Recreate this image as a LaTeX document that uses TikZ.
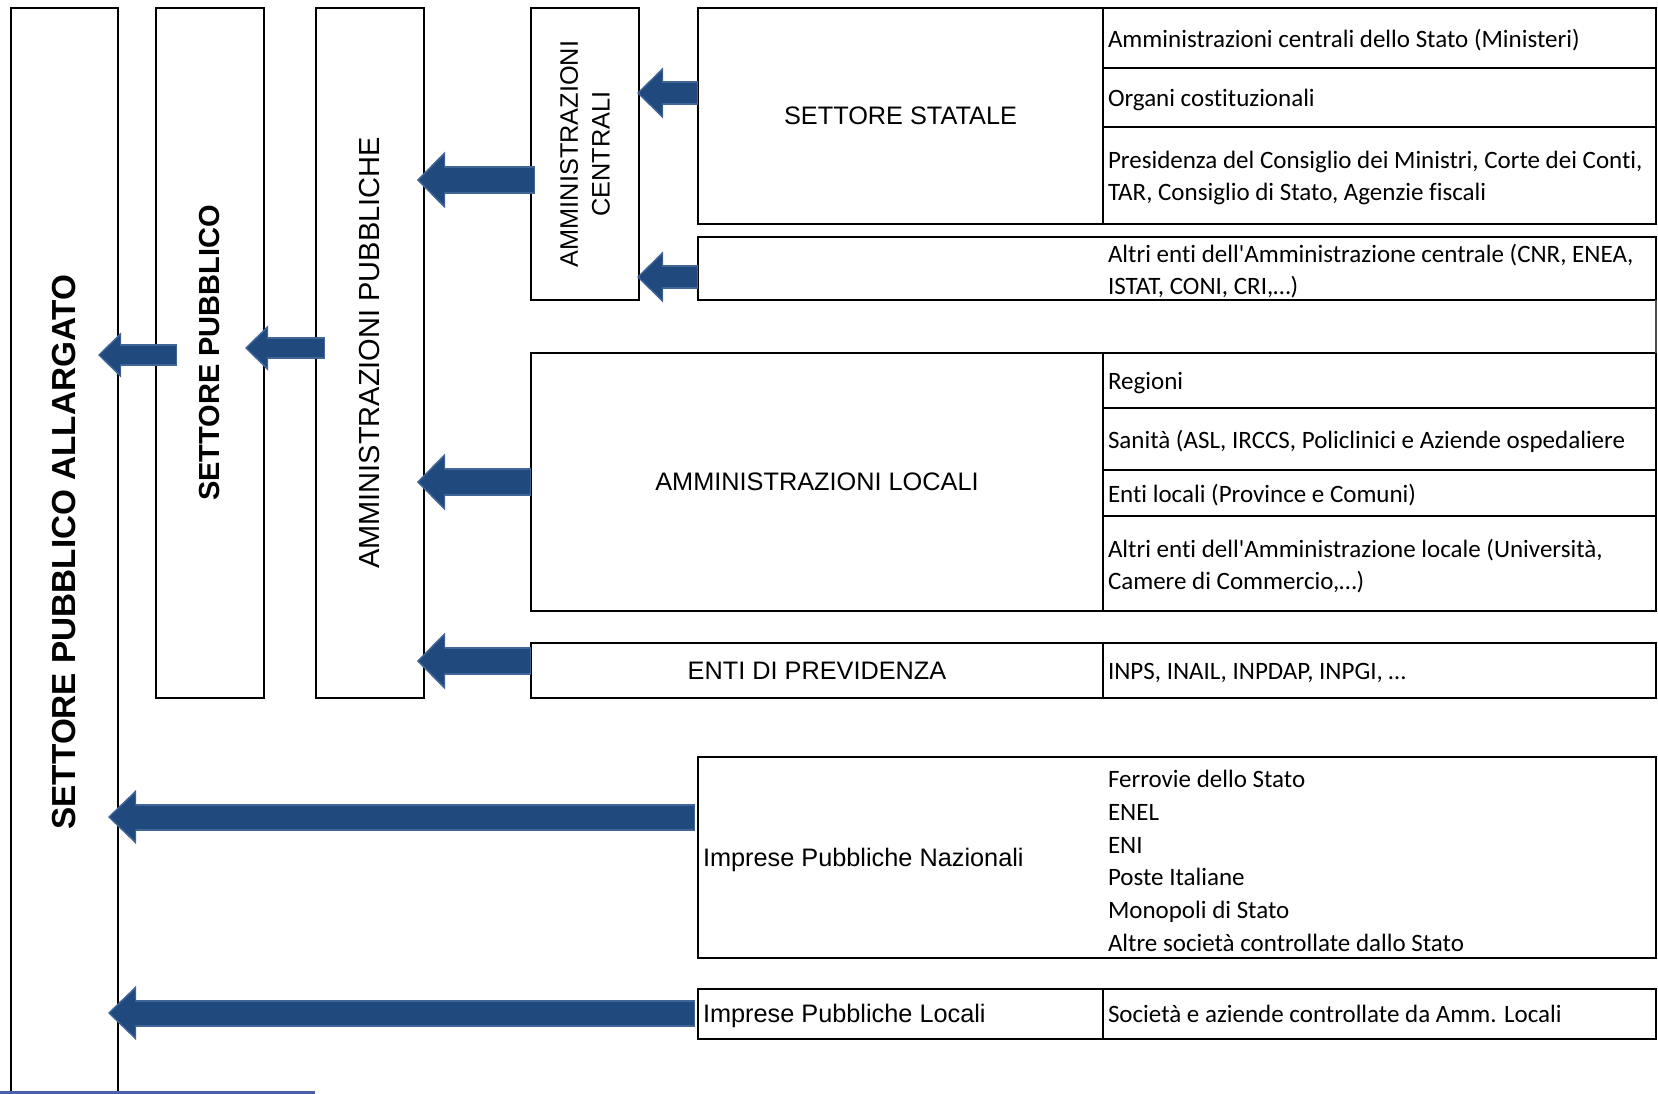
\documentclass[tikz,border=0pt]{standalone}
\usepackage{fontspec}
\setmainfont{Liberation Sans}
\newfontfamily\calibrifont[Ligatures=NoCommon]{Carlito}
\usetikzlibrary{arrows.meta,positioning}
\definecolor{arrowfill}{RGB}{32,74,126}
\definecolor{arrowedge}{RGB}{66,101,152}
\definecolor{footblue}{RGB}{76,96,168}
\begin{document}
\begin{tikzpicture}[x=1pt, y=-1pt, inner sep=0pt, outer sep=0pt,
  box/.style={rectangle, draw=black, line width=2.8},
  cell/.style={box, minimum width=553},
  lbl/.style={font=\fontsize{25.3}{31.7}\selectfont, align=center},
  txt/.style={font=\calibrifont\fontsize{25}{31.7}\selectfont, align=left, yshift=-2.5},
  vlbl/.style={rotate=90, align=center},
  fat/.style n args={6}{preaction={draw=arrowedge, line width=#1, shorten >=0pt, shorten <=0pt, -{Triangle[width=#2, length=#3, line width=0pt]}}, draw=arrowfill, line width=#4, shorten >=2pt, shorten <=1pt, -{Triangle[width=#5, length=#6, line width=0pt]}},
  pipe/.style={fat={24pt}{51pt}{26pt}{20pt}{44pt}{23pt}},
  trunk/.style={fat={28pt}{57pt}{28pt}{24pt}{50pt}{25pt}},
  stub/.style={fat={22pt}{45pt}{23pt}{18pt}{38pt}{20pt}},
  lance/.style={fat={27pt}{54pt}{28pt}{23pt}{47pt}{25pt}}]
\path[use as bounding box, clip] (0,0) rectangle (1658,1094);

\node[box, minimum width=107, minimum height=1112] (allargato) at (64.5,564) {};
\node[box, minimum width=108, minimum height=690] (pubblico) at (210,353) {};
\node[box, minimum width=108, minimum height=690] (amminpub) at (370,353) {};
\node[box, minimum width=108, minimum height=292] (centrali) at (585,154) {};
\node[vlbl, font=\bfseries\fontsize{33.3}{40}\selectfont] (allargato-t) at (64.5,552) {SETTORE PUBBLICO ALLARGATO};
\node[vlbl, font=\bfseries\fontsize{29}{35}\selectfont] (pubblico-t) at (pubblico) {SETTORE PUBBLICO};
\node[vlbl, font=\fontsize{29}{35}\selectfont] (amminpub-t) at (amminpub) {AMMINISTRAZIONI PUBBLICHE};
\node[vlbl, lbl] (centrali-t) at (centrali) {AMMINISTRAZIONI\\CENTRALI};

\node[box, lbl, minimum width=405, minimum height=216] (statale) at (900.5,116) {SETTORE STATALE};
\node[cell, minimum height=60] (ministeri) at (1379.5,38) {};
\node[cell, minimum height=59] (organi) at (1379.5,97.5) {};
\node[cell, minimum height=97] (presidenza) at (1379.5,175.5) {};
\node[txt, right=5 of ministeri.west] (ministeri-t) {Amministrazioni centrali dello Stato (Ministeri)};
\node[txt, right=5 of organi.west] (organi-t) {Organi costituzionali};
\node[txt, right=5 of presidenza.west] (presidenza-t) {Presidenza del Consiglio dei Ministri, Corte dei Conti,\\TAR, Consiglio di Stato, Agenzie fiscali};

\node[box, minimum width=958, minimum height=63] (altricentr) at (1177,268.5) {};
\node[txt, anchor=west, xshift=5] (altricentr-t) at (statale.east |- altricentr.west) {Altri enti dell'Amministrazione centrale (CNR, ENEA,\\ISTAT, CONI, CRI,…)};

\node[box, lbl, minimum width=572, minimum height=258] (locali) at (817,482) {AMMINISTRAZIONI LOCALI};
\node[cell, minimum height=55] (regioni) at (1379.5,380.5) {};
\node[cell, minimum height=62] (sanita) at (1379.5,439) {};
\node[cell, minimum height=46] (entiloc) at (1379.5,493) {};
\node[cell, minimum height=95] (altriloc) at (1379.5,563.5) {};
\node[txt, right=5 of regioni.west] (regioni-t) {Regioni};
\node[txt, right=5 of sanita.west] (sanita-t) {Sanità (ASL, IRCCS, Policlinici e Aziende ospedaliere};
\node[txt, right=5 of entiloc.west] (entiloc-t) {Enti locali (Province e Comuni)};
\node[txt, right=5 of altriloc.west] (altriloc-t) {Altri enti dell'Amministrazione locale (Università,\\Camere di Commercio,…)};
\draw[line width=1.5, black!70] (altricentr.south east) -- (regioni.north east);

\node[box, lbl, minimum width=572, minimum height=55] (previdenza) at (817,670.5) {ENTI DI PREVIDENZA};
\node[cell, minimum height=55] (inps) at (1379.5,670.5) {};
\node[txt, right=5 of inps.west] (inps-t) {INPS, INAIL, INPDAP, INPGI, …};

\node[box, minimum width=958, minimum height=201] (nazionali) at (1177,857.5) {};
\node[lbl, anchor=west, xshift=5, yshift=-2.5] (nazionali-t) at (nazionali.west) {Imprese Pubbliche Nazionali};
\node[txt, font=\calibrifont\fontsize{25}{32.8}\selectfont, anchor=west, xshift=5, yshift=2.5] (nazionali-l) at (statale.east |- 0,861) {Ferrovie dello Stato\\ENEL\\ENI\\Poste Italiane\\Monopoli di Stato\\Altre società controllate dallo Stato};

\node[box, minimum width=405, minimum height=50] (locimprese) at (900.5,1014) {};
\node[lbl, anchor=west, xshift=5, yshift=-2] (locimprese-t) at (locimprese.west) {Imprese Pubbliche Locali};
\node[cell, minimum height=50] (societa) at (1379.5,1014) {};
\node[txt, right=5 of societa.west, yshift=3] (societa-t) {Società e aziende controllate da Amm. Locali};

\draw[pipe] (statale.west |- 0,93) -- ([xshift=-2]centrali.east |- 0,93);
\draw[pipe] (altricentr.west |- 0,277) -- ([xshift=-2]centrali.east |- 0,277);
\draw[trunk] ([xshift=4]centrali.west |- 0,180) -- ([xshift=-7]amminpub.east |- 0,180);
\draw[trunk] (locali.west) -- ([xshift=-7]amminpub.east |- locali.west);
\draw[trunk] (previdenza.west |- 0,661) -- ([xshift=-7]amminpub.east |- 0,661);
\draw[stub] ([xshift=9]amminpub.west |- 0,348) -- ([xshift=-19]pubblico.east |- 0,348);
\draw[stub] ([xshift=21]pubblico.west |- 0,355) -- ([xshift=-20]allargato.east |- 0,355);
\draw[lance] ([xshift=-3]nazionali.west |- 0,817) -- ([xshift=-10]allargato.east |- 0,817);
\draw[lance] ([xshift=-3]locimprese.west |- 0,1013) -- ([xshift=-10]allargato.east |- 0,1013);

\draw[footblue, line width=3] (0,1092) -- (315,1092);
\end{tikzpicture}
\end{document}
